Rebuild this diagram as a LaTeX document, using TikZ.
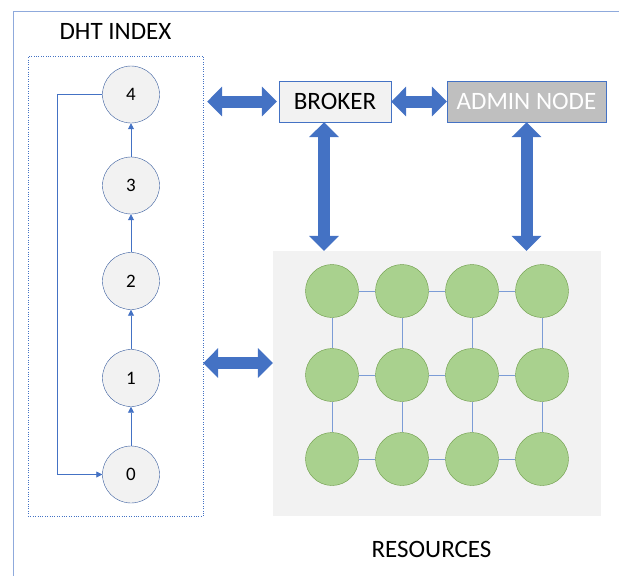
\documentclass[tikz,border=0pt]{standalone}
\usepackage{fontspec}
\setmainfont{Carlito}
\usetikzlibrary{arrows.meta,positioning,calc}
\definecolor{msblue}{HTML}{4472C4}
\definecolor{panel}{HTML}{F2F2F2}
\definecolor{leaf}{HTML}{A9D18E}
\definecolor{leafline}{HTML}{6A9A45}
\definecolor{adm}{HTML}{BFBFBF}
\tikzset{bigarrow/.style={msblue,line width=12pt,{Triangle[width=29pt,length=15pt]}-{Triangle[width=29pt,length=15pt]}}}
\tikzset{heading/.style={font=\fontsize{25}{25}\selectfont}}

\begin{document}
\begin{tikzpicture}[x=1pt,y=-1pt,
  slot/.style={circle,draw=msblue!80!black,fill=panel,minimum size=57pt,inner sep=0pt,font=\fontsize{19}{19}\selectfont},
  peer/.style={circle,draw=leafline,fill=leaf,minimum size=53pt,inner sep=0pt},
  ring/.style={msblue,line width=0.8pt,-{Triangle[width=6pt,length=6pt]}},
  mesh/.style={msblue!70,line width=0.8pt}]
\useasboundingbox (0,0) rectangle (619,576);
\draw[msblue!60,line width=1pt] (13,576) -- (13,11) -- (619,11);

% dht ring
\node[draw=msblue,dotted,minimum width=175pt,minimum height=460pt] (index) at (115.5,286) {};
\node[heading] (dht) at (115.5,31) {DHT INDEX};
\foreach \n/\y in {0/474.5,1/378,2/281,3/185.5,4/94.5}
  \node[slot] (k\n) at (131,\y) {\n};
\foreach \a/\b in {0/1,1/2,2/3,3/4}
  \draw[ring] (k\a) -- (k\b);
\draw[ring] (k4.west) -- ++(-45,0) |- (k0.west);

% resource pool
\node[fill=panel,minimum width=328pt,minimum height=265pt] (pool) at (437,383.5) {};
\node[heading] (res) at (431.5,549) {RESOURCES};
\foreach \c/\x in {1/332,2/402,3/472,4/542}
  \foreach \r/\y in {1/291,2/375,3/459}
    \node[peer] (p\r\c) at (\x,\y) {};
\foreach \r in {1,2,3}
  \foreach \c/\d in {1/2,2/3,3/4}
    \draw[mesh] (p\r\c) -- (p\r\d);
\foreach \c in {1,...,4}
  \foreach \r/\s in {1/2,2/3}
    \draw[mesh] (p\r\c) -- (p\s\c);

% broker and admin
\node[draw=msblue,fill=panel,minimum width=112pt,minimum height=41pt,inner sep=0pt,heading] (broker) at (335,101.5) {BROKER};
\node[draw=msblue,fill=adm,text=white,minimum width=159pt,minimum height=41pt,inner sep=0pt,heading] (admin) at (526.5,101.5) {ADMIN NODE};

\draw[bigarrow,shorten <=4pt,shorten >=2pt] (index.east |- broker.west) -- (broker.west);
\draw[bigarrow] (broker.east) -- (admin.west);
\coordinate (bdrop) at ([xshift=-11pt]broker.south);
\draw[bigarrow] (bdrop) -- (bdrop |- pool.north);
\draw[bigarrow] (admin.south) -- (admin.south |- pool.north);
\coordinate (rlink) at (0,363);
\draw[bigarrow] (index.east |- rlink) -- (pool.west |- rlink);
\end{tikzpicture}
\end{document}
